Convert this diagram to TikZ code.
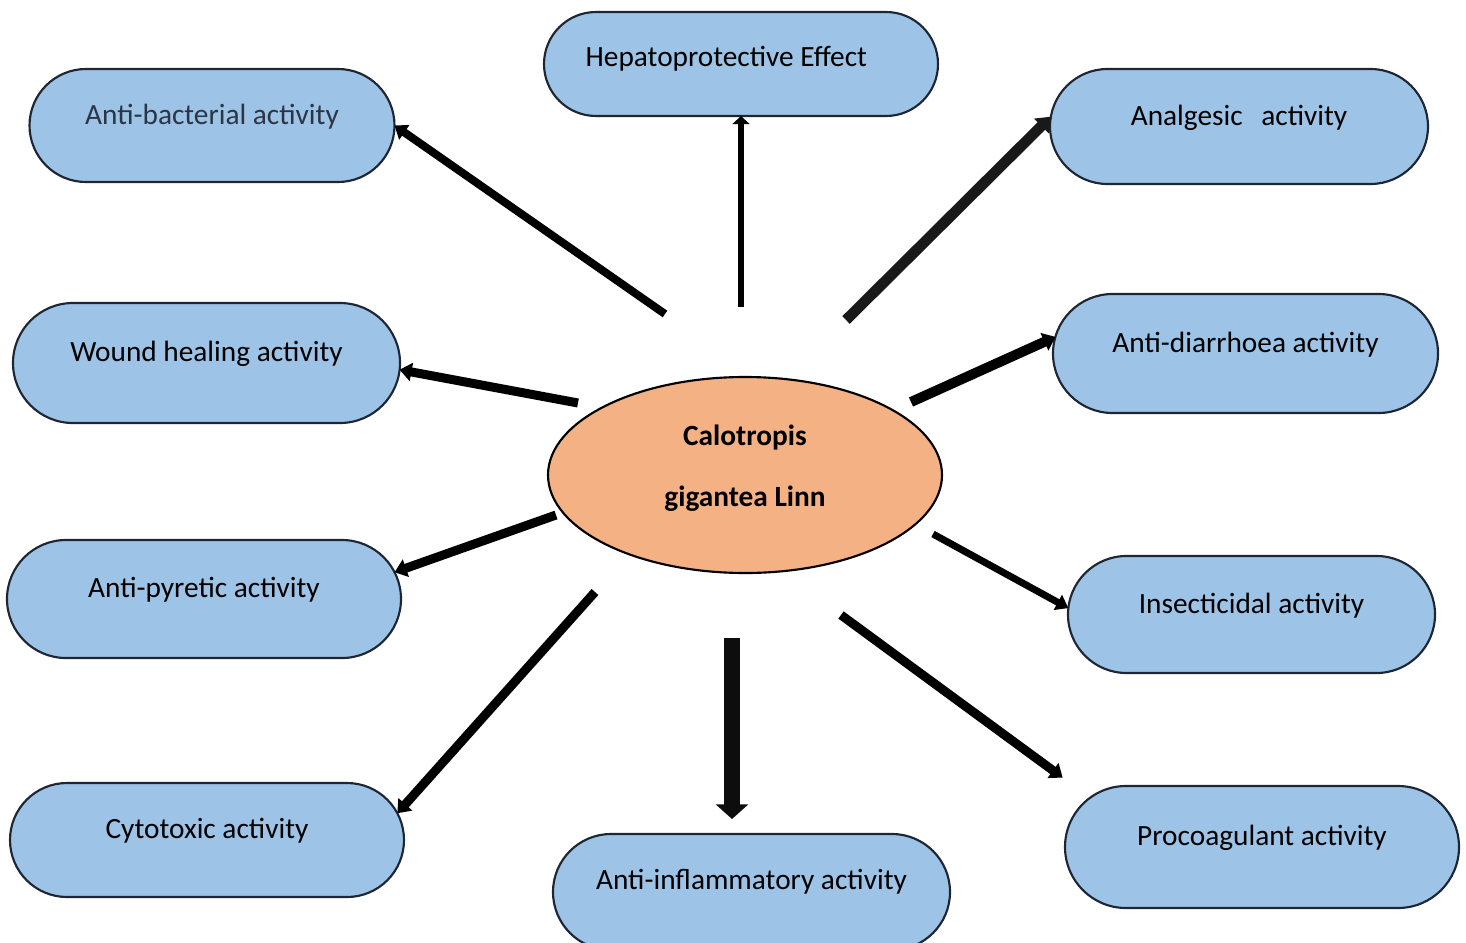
\documentclass[tikz,border=0pt]{standalone}
\usepackage{fontspec}
\setmainfont{Carlito}
\usetikzlibrary{shapes.misc,shapes.geometric,arrows.meta}
\definecolor{boxfill}{HTML}{9DC3E6}
\definecolor{boxline}{HTML}{1E2633}
\definecolor{ellfill}{HTML}{F4B183}
\definecolor{slate}{HTML}{2B3545}
\begin{document}
\begin{tikzpicture}[x=0.75pt,y=-0.75pt,
  font=\fontsize{22}{26}\selectfont,
  box/.style={rounded rectangle, draw=boxline, fill=boxfill, line width=1.6pt, outer sep=0pt, inner sep=0pt},
  lbl/.style={yshift=6.75pt},
  arr/.style args={#1/#2/#3}{draw=black, line width=#1, -{Triangle[width=#2,length=#3]}}]
\useasboundingbox (0,0) rectangle (1466,942);

% boxes
\node[box, minimum width=273.75pt, minimum height=84.75pt,
  label={[lbl, text=slate]center:Anti-bacterial activity}] (n1) at (212,125.5) {};
\node[box, minimum width=295.5pt, minimum height=78pt,
  label={[yshift=4pt, xshift=-11pt]center:Hepatoprotective Effect}] (n2) at (741,64) {};
\node[box, minimum width=283.5pt, minimum height=86.25pt,
  label={[lbl]center:Analgesic\hspace{14pt}activity}] (n3) at (1239,126.5) {};
\node[box, minimum width=290.25pt, minimum height=90pt,
  label={[lbl]center:Wound healing activity}] (n4) at (206.5,363) {};
\node[box, minimum width=288.75pt, minimum height=89.25pt,
  label={[lbl]center:Anti-diarrhoea activity}] (n5) at (1245.5,353.5) {};
\node[box, minimum width=295.5pt, minimum height=88.5pt,
  label={[lbl]center:Anti-pyretic activity}] (n6) at (204,599) {};
\node[box, minimum width=275.25pt, minimum height=87.75pt,
  label={[lbl]center:Insecticidal activity}] (n7) at (1251.5,614.5) {};
\node[box, minimum width=295.5pt, minimum height=85.5pt,
  label={[lbl]center:Cytotoxic activity}] (n8) at (207,840) {};
\node[box, minimum width=297.75pt, minimum height=87pt,
  label={[lbl, yshift=0.75pt]center:Anti-inflammatory activity}] (n9) at (751.5,892) {};
\node[box, minimum width=295.5pt, minimum height=91.5pt,
  label={[lbl]center:Procoagulant activity}] (n10) at (1262,847) {};

% centre
\node[ellipse, draw=black, fill=ellfill, line width=1.6pt, minimum width=295.5pt,
  minimum height=147pt, inner sep=0pt, outer sep=0pt,
  label={[yshift=5pt, align=center, font=\fontsize{22}{45.75}\selectfont\bfseries]center:Calotropis\\gigantea Linn}] (c) at (745,475) {};

% arrow start points
\coordinate (s1) at (665,314);
\coordinate (s2) at (741,307);
\coordinate (s3) at (846,320);
\coordinate (s4) at (578,403);
\coordinate (s5) at (911,402);
\coordinate (s6) at (556,515);
\coordinate (s7) at (933,534);
\coordinate (s8) at (595,592);
\coordinate (s9) at (732,638);
\coordinate (s10) at (841,615);

\draw[arr=6pt/13pt/9pt] (s1) -- (n1.east);
\draw[arr=5pt/12.5pt/6pt] (s2) -- (n2.south);
\draw[arr=8pt/15pt/10pt, draw=black!90] (s3) -- (n3.177);
\draw[arr=6.75pt/13.5pt/9pt] (s4) -- (n4.-2);
\draw[arr=7.5pt/14pt/9pt] (s5) -- (n5.175);
\draw[arr=6.75pt/13.5pt/9pt] (s6) -- (n6.8.5);
\draw[arr=5.25pt/12.5pt/9pt] (s7) -- (n7.178);
\draw[arr=6.75pt/13.5pt/9pt] (s8) -- (n8.8);
\draw[arr=12pt/24pt/11pt, draw=black!95, shorten >=11.25pt] (s9) -- (s9 |- n9.north);
\draw[arr=6.75pt/13.5pt/9pt, shorten >=25.5pt] (s10) -- (n10.164);
\end{tikzpicture}
\end{document}
